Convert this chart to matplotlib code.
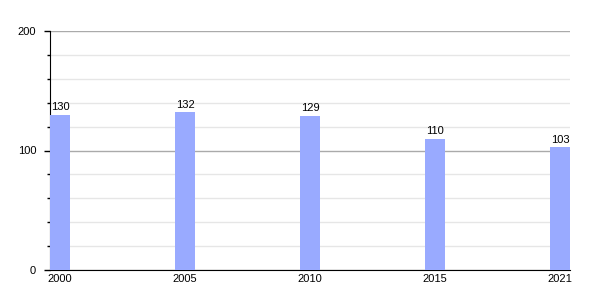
import matplotlib
matplotlib.use('Agg')
import matplotlib.pyplot as plt
from matplotlib.ticker import MultipleLocator

years = ['2000', '2005', '2010', '2015', '2021']
values = [130, 132, 129, 110, 103]

plt.rcParams['font.family'] = ['Liberation Sans', 'DejaVu Sans']

fig = plt.figure(figsize=(6, 3), dpi=100)
ax = fig.add_axes([50 / 600, 30 / 300, 520 / 600, 239 / 300])

pos = list(range(len(years)))
w = 0.16
ax.bar(pos, values, width=w, color='#99aaff', zorder=3)
for p, v in zip(pos, values):
    ax.text(p, v + 2, str(v), ha='center', va='bottom', fontsize=8, zorder=4)

ax.set_xlim(-w / 2, len(years) - 1 + w / 2)
ax.set_ylim(0, 200)
ax.set_xticks(pos)
ax.set_xticklabels(years, fontsize=8)
ax.tick_params(axis='x', length=0, pad=3)

ax.yaxis.set_major_locator(MultipleLocator(100))
ax.yaxis.set_minor_locator(MultipleLocator(20))
ax.tick_params(axis='y', which='major', length=4, width=1, labelsize=8, pad=6)
ax.tick_params(axis='y', which='minor', length=2, width=1)
ax.grid(axis='y', which='major', color='#aaaaaa', linewidth=1, zorder=0)
ax.grid(axis='y', which='minor', color='#e6e6e6', linewidth=1, zorder=0)
ax.set_axisbelow(True)

for s in ['top', 'right']:
    ax.spines[s].set_visible(False)
ax.spines['left'].set_color('black')
ax.spines['bottom'].set_color('black')

fig.savefig('out.png', dpi=100)
